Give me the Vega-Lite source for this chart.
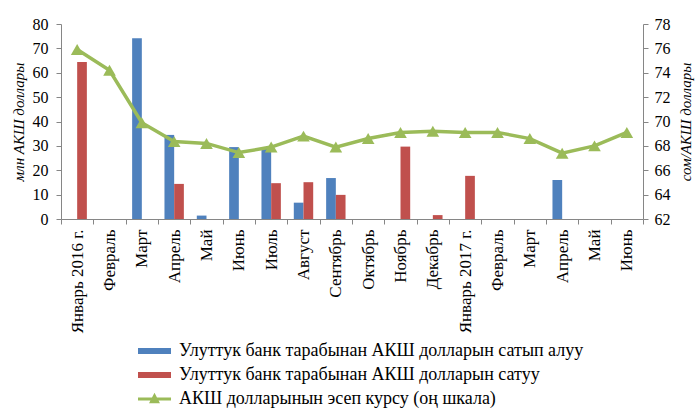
{
  "$schema": "https://vega.github.io/schema/vega-lite/v6.json",
  "width": 582,
  "height": 195,
  "autosize": "none",
  "padding": {"left": 61, "top": 24, "right": 52, "bottom": 191},
  "background": "white",
  "config": {
    "view": {"stroke": null},
    "font": "Liberation Serif",
    "axis": {
      "grid": false,
      "labelFont": "Liberation Serif",
      "labelFontSize": 16,
      "labelColor": "#000000",
      "titleFont": "Liberation Serif",
      "titleFontSize": 15,
      "titleFontWeight": "normal",
      "titleFontStyle": "italic",
      "titleColor": "#000000",
      "domainColor": "#868686",
      "tickColor": "#868686",
      "tickSize": 5
    },
    "legend": {
      "labelFont": "Liberation Serif",
      "labelFontSize": 18,
      "labelColor": "#000000",
      "labelLimit": 600,
      "padding": 0,
      "symbolOpacity": 1
    }
  },
  "datasets": {
    "flows": [
      {"period": "01|Январь 2016 г.", "series": "Улуттук банк тарабынан АКШ долларын сатуу", "value": 64.4},
      {"period": "03|Март", "series": "Улуттук банк тарабынан АКШ долларын сатып алуу", "value": 74.2},
      {"period": "04|Апрель", "series": "Улуттук банк тарабынан АКШ долларын сатып алуу", "value": 34.5},
      {"period": "04|Апрель", "series": "Улуттук банк тарабынан АКШ долларын сатуу", "value": 14.4},
      {"period": "05|Май", "series": "Улуттук банк тарабынан АКШ долларын сатып алуу", "value": 1.4},
      {"period": "06|Июнь", "series": "Улуттук банк тарабынан АКШ долларын сатып алуу", "value": 29.5},
      {"period": "07|Июль", "series": "Улуттук банк тарабынан АКШ долларын сатып алуу", "value": 28.8},
      {"period": "07|Июль", "series": "Улуттук банк тарабынан АКШ долларын сатуу", "value": 14.7},
      {"period": "08|Август", "series": "Улуттук банк тарабынан АКШ долларын сатып алуу", "value": 6.7},
      {"period": "08|Август", "series": "Улуттук банк тарабынан АКШ долларын сатуу", "value": 15.1},
      {"period": "09|Сентябрь", "series": "Улуттук банк тарабынан АКШ долларын сатып алуу", "value": 16.8},
      {"period": "09|Сентябрь", "series": "Улуттук банк тарабынан АКШ долларын сатуу", "value": 9.9},
      {"period": "11|Ноябрь", "series": "Улуттук банк тарабынан АКШ долларын сатуу", "value": 29.7},
      {"period": "12|Декабрь", "series": "Улуттук банк тарабынан АКШ долларын сатуу", "value": 1.6},
      {"period": "13|Январь 2017 г.", "series": "Улуттук банк тарабынан АКШ долларын сатуу", "value": 17.7},
      {"period": "16|Апрель", "series": "Улуттук банк тарабынан АКШ долларын сатып алуу", "value": 16.0}
    ],
    "rate": [
      {"period": "01|Январь 2016 г.", "series": "АКШ долларынын эсеп курсу (оң шкала)", "rate": 75.9},
      {"period": "02|Февраль", "series": "АКШ долларынын эсеп курсу (оң шкала)", "rate": 74.2},
      {"period": "03|Март", "series": "АКШ долларынын эсеп курсу (оң шкала)", "rate": 69.9},
      {"period": "04|Апрель", "series": "АКШ долларынын эсеп курсу (оң шкала)", "rate": 68.35},
      {"period": "05|Май", "series": "АКШ долларынын эсеп курсу (оң шкала)", "rate": 68.2},
      {"period": "06|Июнь", "series": "АКШ долларынын эсеп курсу (оң шкала)", "rate": 67.45},
      {"period": "07|Июль", "series": "АКШ долларынын эсеп курсу (оң шкала)", "rate": 67.9},
      {"period": "08|Август", "series": "АКШ долларынын эсеп курсу (оң шкала)", "rate": 68.8},
      {"period": "09|Сентябрь", "series": "АКШ долларынын эсеп курсу (оң шкала)", "rate": 67.9},
      {"period": "10|Октябрь", "series": "АКШ долларынын эсеп курсу (оң шкала)", "rate": 68.6},
      {"period": "11|Ноябрь", "series": "АКШ долларынын эсеп курсу (оң шкала)", "rate": 69.1},
      {"period": "12|Декабрь", "series": "АКШ долларынын эсеп курсу (оң шкала)", "rate": 69.2},
      {"period": "13|Январь 2017 г.", "series": "АКШ долларынын эсеп курсу (оң шкала)", "rate": 69.1},
      {"period": "14|Февраль", "series": "АКШ долларынын эсеп курсу (оң шкала)", "rate": 69.1},
      {"period": "15|Март", "series": "АКШ долларынын эсеп курсу (оң шкала)", "rate": 68.6},
      {"period": "16|Апрель", "series": "АКШ долларынын эсеп курсу (оң шкала)", "rate": 67.4},
      {"period": "17|Май", "series": "АКШ долларынын эсеп курсу (оң шкала)", "rate": 68.0},
      {"period": "18|Июнь", "series": "АКШ долларынын эсеп курсу (оң шкала)", "rate": 69.1}
    ]
  },
  "layer": [
    {
      "data": {"name": "flows"},
      "mark": {"type": "bar"},
      "encoding": {
        "x": {
          "field": "period",
          "type": "nominal",
          "sort": "ascending",
          "scale": {"paddingInner": 0, "paddingOuter": 0},
          "axis": {
            "title": null,
            "labelAngle": -90,
            "labelFontSize": 17,
            "labelExpr": "split(datum.value, '|')[1]",
            "labelPadding": 5,
            "tickBand": "extent",
            "labelLimit": 200
          }
        },
        "xOffset": {
          "field": "series",
          "type": "nominal",
          "scale": {
            "domain": ["Улуттук банк тарабынан АКШ долларын сатып алуу", "Улуттук банк тарабынан АКШ долларын сатуу"],
            "paddingInner": 0,
            "paddingOuter": 0.667
          }
        },
        "y": {
          "field": "value",
          "type": "quantitative",
          "scale": {"domain": [0, 80]},
          "axis": {
            "title": "млн АКШ доллары",
            "values": [0, 10, 20, 30, 40, 50, 60, 70, 80],
            "labelPadding": 8,
            "titlePadding": 6
          }
        },
        "color": {
          "field": "series",
          "type": "nominal",
          "scale": {
            "domain": [
              "Улуттук банк тарабынан АКШ долларын сатып алуу",
              "Улуттук банк тарабынан АКШ долларын сатуу"
            ],
            "range": ["#4F81BD", "#C0504D"]
          },
          "legend": {
            "title": null,
            "orient": "none",
            "legendX": 84.5,
            "legendY": 318,
            "labelOffset": 15.5,
            "rowPadding": 6,
            "symbolType": "M-3.3,-0.6H3.3V0.6H-3.3Z",
            "symbolSize": 100
          }
        }
      }
    },
    {
      "data": {"name": "rate"},
      "encoding": {
        "x": {"field": "period", "type": "nominal", "sort": "ascending"},
        "y": {
          "field": "rate",
          "type": "quantitative",
          "scale": {"domain": [62, 78]},
          "axis": {
            "orient": "right",
            "title": "сом/АКШ доллары",
            "titleAngle": 270,
            "titleBaseline": "top",
            "values": [62, 64, 66, 68, 70, 72, 74, 76, 78],
            "labelPadding": 6,
            "titlePadding": 8
          }
        }
      },
      "layer": [
        {
          "mark": {"type": "line", "strokeWidth": 3.5},
          "encoding": {
            "stroke": {
              "field": "series",
              "type": "nominal",
              "scale": {"domain": ["АКШ долларынын эсеп курсу (оң шкала)"], "range": ["#9BBB59"]},
              "legend": {
                "title": null,
                "orient": "none",
                "legendX": 84.5,
                "legendY": 366,
                "labelOffset": 15.5,
                "symbolType": "M-3.3,0H3.3M-0.6,0.55L0,-0.6L0.6,0.55Z",
                "symbolSize": 100,
                "symbolStrokeWidth": 3,
                "symbolFillColor": "#9BBB59"
              }
            }
          }
        },
        {
          "mark": {"type": "point", "filled": true, "shape": "triangle-up", "size": 160, "color": "#9BBB59", "opacity": 1}
        }
      ]
    }
  ],
  "resolve": {"scale": {"y": "independent"}}
}
